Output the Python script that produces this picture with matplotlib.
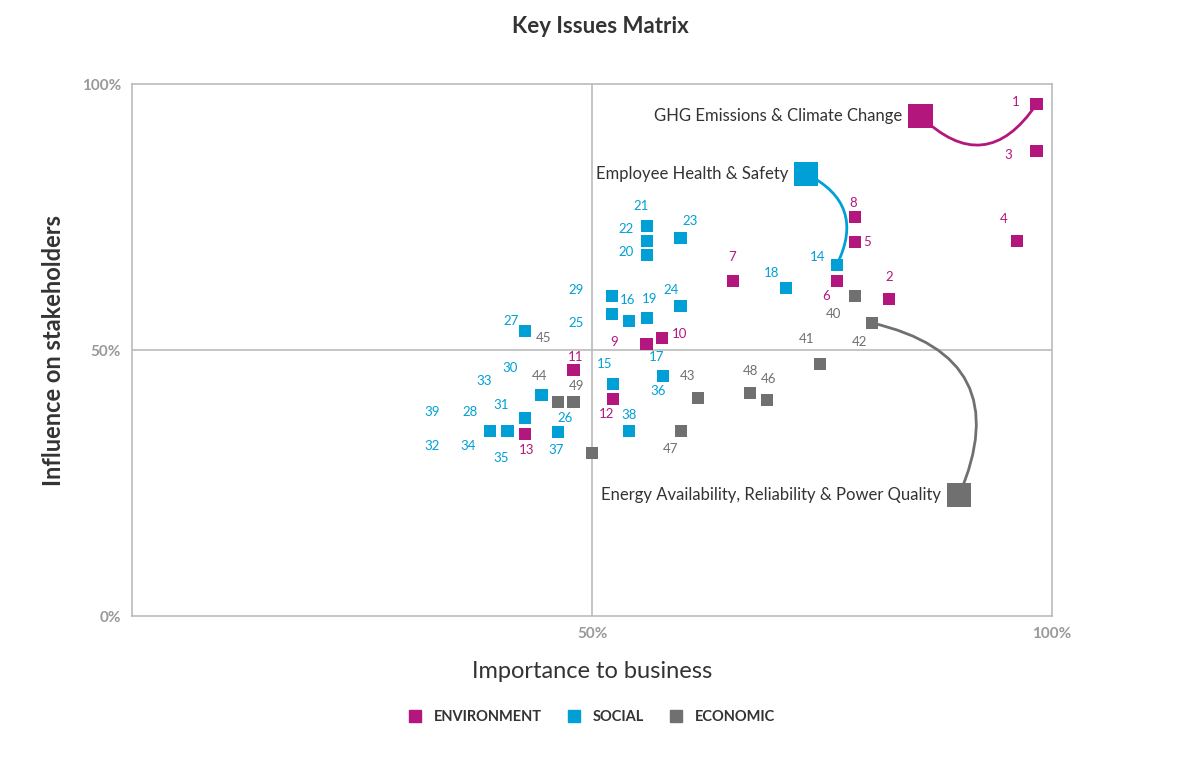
import matplotlib
matplotlib.use("Agg")
import matplotlib.pyplot as plt
from matplotlib.lines import Line2D

plt.rcParams['font.family'] = ['Lato', 'DejaVu Sans']

C_ENV, C_SOC, C_ECO = "#B3177D", "#00A0D6", "#707070"

env_x = [98.3, 98.3, 96.2, 78.6, 78.6, 82.3, 76.6, 65.3, 57.6, 55.9, 48.0, 52.3, 42.7]
env_y = [96.2, 87.4, 70.5, 75.0, 70.3, 59.6, 63.0, 63.0, 52.3, 51.1, 46.2, 40.8, 34.2]
soc_x = [56.0, 56.0, 56.0, 59.6, 76.6, 71.1, 52.2, 52.2, 54.0, 56.0, 59.6, 42.7, 57.7, 52.3, 44.5, 42.7, 40.8, 38.9, 46.3, 54.0]
soc_y = [73.3, 70.5, 67.9, 71.1, 66.0, 61.7, 60.2, 56.8, 55.5, 56.0, 58.3, 53.6, 45.1, 43.6, 41.5, 37.2, 34.8, 34.8, 34.6, 34.8]
eco_x = [78.6, 80.4, 74.8, 67.2, 69.0, 61.5, 59.7, 46.3, 48.0, 50.0]
eco_y = [60.2, 55.1, 47.4, 41.9, 40.6, 41.0, 34.8, 40.2, 40.2, 30.6]

env_labels = [("1", 96.1, 96.6), ("3", 95.2, 86.7), ("4", 94.8, 74.6), ("8", 78.4, 77.6),
              ("5", 79.9, 70.3), ("2", 82.3, 63.7), ("6", 75.4, 60.2), ("7", 65.2, 67.5),
              ("10", 59.5, 53.0), ("9", 52.4, 51.5), ("11", 48.2, 48.7), ("12", 51.6, 38.0),
              ("13", 42.9, 31.2)]
soc_labels = [("21", 55.3, 77.1), ("22", 53.7, 72.7), ("20", 53.7, 68.4), ("23", 60.7, 74.2),
              ("14", 74.5, 67.5), ("18", 69.5, 64.5), ("29", 48.3, 61.3), ("25", 48.3, 55.1),
              ("16", 53.9, 59.4), ("19", 56.3, 59.6), ("24", 58.6, 61.3), ("27", 41.2, 55.5),
              ("17", 57.0, 48.7), ("36", 57.2, 42.3), ("15", 51.4, 47.4), ("30", 41.1, 46.6),
              ("33", 38.3, 44.2), ("39", 32.6, 38.3), ("28", 36.7, 38.3), ("31", 40.1, 39.7),
              ("26", 47.1, 37.2), ("32", 32.6, 32.0), ("34", 36.5, 32.0), ("35", 40.1, 29.7),
              ("37", 46.1, 31.2), ("38", 54.0, 37.8)]
eco_labels = [("45", 44.7, 52.3), ("44", 44.3, 45.1), ("49", 48.3, 43.2), ("43", 60.4, 45.1),
              ("48", 67.2, 46.1), ("46", 69.2, 44.5), ("47", 58.5, 31.4), ("40", 76.3, 56.8),
              ("41", 73.3, 52.1), ("42", 79.1, 51.5)]

# key issue callouts: (text, big marker x, y, linked point x, y, colour, curvature)
callouts = [("GHG Emissions & Climate Change", 85.7, 94.0, 98.3, 96.2, C_ENV, 0.6),
            ("Employee Health & Safety", 73.3, 83.1, 76.6, 66.0, C_SOC, -0.5),
            ("Energy Availability, Reliability & Power Quality", 89.9, 22.7, 80.4, 55.1, C_ECO, 0.6)]

fig = plt.figure(figsize=(12, 7.64), dpi=100)
ax = fig.add_axes([0.11, 0.1937, 0.7667, 0.6963])
ax.set_xlim(0, 100)
ax.set_ylim(0, 100)
for s in ax.spines.values():
    s.set_color("#BBBBBB"); s.set_linewidth(1.2)
ax.axvline(50, color="#BBBBBB", lw=1.2, zorder=0)
ax.axhline(50, color="#BBBBBB", lw=1.2, zorder=0)
ax.set_xticks([50, 100]); ax.set_xticklabels(["50%", "100%"])
ax.set_yticks([0, 50, 100]); ax.set_yticklabels(["0%", "50%", "100%"])
ax.tick_params(length=0, labelsize=11, labelcolor="#999999", pad=8)
for t in ax.get_xticklabels() + ax.get_yticklabels():
    t.set_fontweight("bold")
ax.set_xlabel("Importance to business", fontsize=17, color="#333333", labelpad=14)
ax.set_ylabel("Influence on stakeholders", fontsize=17, color="#333333", fontweight="bold", labelpad=12)

for (t, bx, by, px, py, c, rad) in callouts:
    ax.annotate("", xy=(px, py), xytext=(bx, by),
                arrowprops=dict(arrowstyle="-", color=c, lw=2, shrinkA=0, shrinkB=0,
                                connectionstyle=f"arc3,rad={rad}"), zorder=2)
    ax.scatter([bx], [by], marker="s", s=300, color=c, zorder=4, edgecolors="none")
    ax.text(bx - 2.0, by, t, ha="right", va="center", fontsize=12, color="#333333")

kw = dict(marker="s", s=80, zorder=3, edgecolors="none")
ax.scatter(eco_x, eco_y, color=C_ECO, **kw)
ax.scatter(soc_x, soc_y, color=C_SOC, **kw)
ax.scatter(env_x, env_y, color=C_ENV, **kw)

for labs, c in [(env_labels, C_ENV), (soc_labels, C_SOC), (eco_labels, C_ECO)]:
    for t, x, y in labs:
        ax.text(x, y, t, ha="center", va="center", fontsize=9.5, color=c)

fig.text(0.5, 0.965, "Key Issues Matrix", ha="center", va="center", fontsize=16, fontweight="bold", color="#333333")

handles = [Line2D([], [], marker="s", ls="", color=c, markersize=8) for c in (C_ENV, C_SOC, C_ECO)]
leg = fig.legend(handles, ["ENVIRONMENT", "SOCIAL", "ECONOMIC"], loc="center", bbox_to_anchor=(0.49, 0.062),
                 ncol=3, frameon=False, fontsize=10.5, handletextpad=0.3, columnspacing=1.2)
for t in leg.get_texts():
    t.set_fontweight("bold"); t.set_color("#333333")

fig.savefig("out.png", dpi=100)
